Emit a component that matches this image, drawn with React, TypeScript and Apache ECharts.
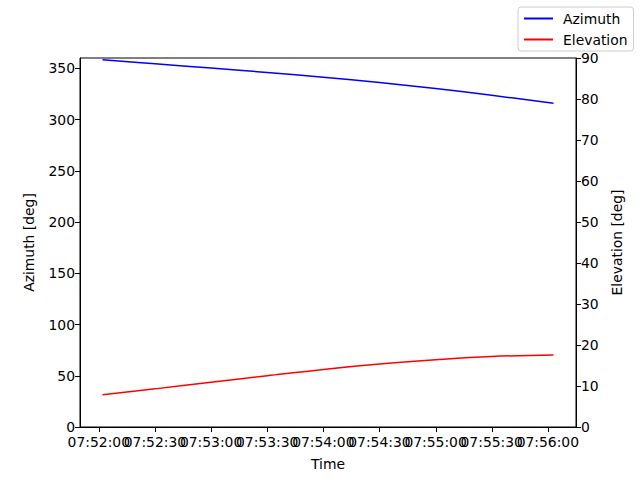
import React, { useEffect, useRef } from "react";
import * as echarts from "echarts";

// seconds after 07:52:00
const timeSec = [2, 30, 60, 90, 120, 150, 180, 210, 243];
const azimuth = [358.3, 354.4, 350.2, 345.9, 341.3, 336.0, 330.2, 323.6, 315.8];
const elevation = [7.88, 9.3, 10.9, 12.5, 14.05, 15.35, 16.4, 17.2, 17.56];
const xTicks = [0, 30, 60, 90, 120, 150, 180, 210, 240];
const azTicks = [0, 50, 100, 150, 200, 250, 300, 350];
const elTicks = [0, 10, 20, 30, 40, 50, 60, 70, 80, 90];

const BASE = 7 * 3600 + 52 * 60;
const pad = (n: number) => (n < 10 ? "0" + n : "" + n);
const fmtTime = (v: number) => {
  const t = Math.round(BASE + v);
  return pad(Math.floor(t / 3600)) + ":" + pad(Math.floor((t % 3600) / 60)) + ":" + pad(t % 60);
};

const FONT = "DejaVu Sans";
const FS = 13.9;

export default function App() {
  const ref = useRef<HTMLDivElement>(null);
  useEffect(() => {
    const chart = echarts.init(ref.current!, null, { renderer: "svg" });
    const span = timeSec[timeSec.length - 1] - timeSec[0];
    const xmin = timeSec[0] - 0.05 * span;
    const xmax = timeSec[timeSec.length - 1] + 0.05 * span;
    const axisCommon = {
      axisLine: { show: true, onZero: false, lineStyle: { color: "#000", width: 1 } },
      axisTick: { show: true, inside: false, length: 5, interval: 0, lineStyle: { color: "#000", width: 1 } },
      axisLabel: { color: "#000", fontFamily: FONT, fontSize: FS, margin: 5, interval: 0 },
      splitLine: { show: false },
      nameTextStyle: { color: "#000", fontFamily: FONT, fontSize: FS },
    };
    chart.setOption({
      animation: false,
      backgroundColor: "#fff",
      textStyle: { fontFamily: FONT },
      grid: {
        left: 80,
        right: 64,
        top: 58,
        bottom: 53,
        containLabel: false,
        show: true,
        borderColor: "#000",
        borderWidth: 1,
        backgroundColor: "transparent",
      },
      legend: {
        show: true,
        left: 518,
        top: 7,
        orient: "vertical",
        itemWidth: 29,
        itemHeight: 14,
        itemGap: 7,
        padding: [4.5, 6, 4.5, 5],
        borderColor: "#cccccc",
        borderWidth: 1,
        borderRadius: 3,
        backgroundColor: "rgba(255,255,255,0.8)",
        itemStyle: { opacity: 0 },
        textStyle: { color: "#000", fontFamily: FONT, fontSize: FS, padding: [0, 0, 0, 5] },
        data: ["Azimuth", "Elevation"],
      },
      xAxis: [
        {
          type: "value",
          min: xmin,
          max: xmax,
          name: "Time",
          nameLocation: "middle",
          nameGap: 30,
          ...axisCommon,
          axisTick: { show: false },
          axisLabel: { show: false },
        },
      ],
      yAxis: [
        {
          type: "value",
          min: 0,
          max: 360,
          name: "Azimuth [deg]",
          nameLocation: "middle",
          nameGap: 44,
          position: "left",
          ...axisCommon,
          axisTick: { ...axisCommon.axisTick, customValues: azTicks },
          axisLabel: { ...axisCommon.axisLabel, customValues: azTicks },
        },
        {
          type: "value",
          min: 0,
          max: 90,
          name: "Elevation [deg]",
          nameLocation: "middle",
          nameGap: 33,
          position: "right",
          ...axisCommon,
          axisTick: { ...axisCommon.axisTick, customValues: elTicks },
          axisLabel: { ...axisCommon.axisLabel, customValues: elTicks },
        },
      ],
      series: [
        {
          name: "Azimuth",
          type: "line",
          xAxisIndex: 0,
          yAxisIndex: 0,
          smooth: 0.4,
          symbol: "none",
          color: "#0000ff",
          lineStyle: { color: "#0000ff", width: 1.5 },
          data: timeSec.map((t, i) => [t, azimuth[i]]),
        },
        {
          name: "Elevation",
          type: "line",
          xAxisIndex: 0,
          yAxisIndex: 1,
          smooth: 0.4,
          symbol: "none",
          color: "#ff0000",
          lineStyle: { color: "#ff0000", width: 1.5 },
          data: timeSec.map((t, i) => [t, elevation[i]]),
        },
        {
          name: "xTicks",
          type: "custom",
          xAxisIndex: 0,
          yAxisIndex: 0,
          clip: false,
          silent: true,
          z: 10,
          data: xTicks.map((v) => [v, 0]),
          renderItem: (params: any, api: any) => {
            const v = api.value(0);
            const p = api.coord([v, 0]);
            const x = Math.round(p[0]) + 0.5;
            return {
              type: "group",
              children: [
                {
                  type: "line",
                  shape: { x1: x, y1: p[1], x2: x, y2: p[1] + 5 },
                  style: { stroke: "#000", lineWidth: 1 },
                },
                {
                  type: "text",
                  x: p[0],
                  y: p[1] + 8,
                  style: {
                    text: fmtTime(v),
                    fill: "#000",
                    fontFamily: FONT,
                    fontSize: FS,
                    align: "center",
                    verticalAlign: "top",
                  },
                },
              ],
            };
          },
        },
      ],
    });
    return () => chart.dispose();
  }, []);
  return (
    <div
      ref={ref}
      style={{ position: "fixed", left: 0, top: 0, width: 640, height: 480, background: "#fff" }}
    />
  );
}
